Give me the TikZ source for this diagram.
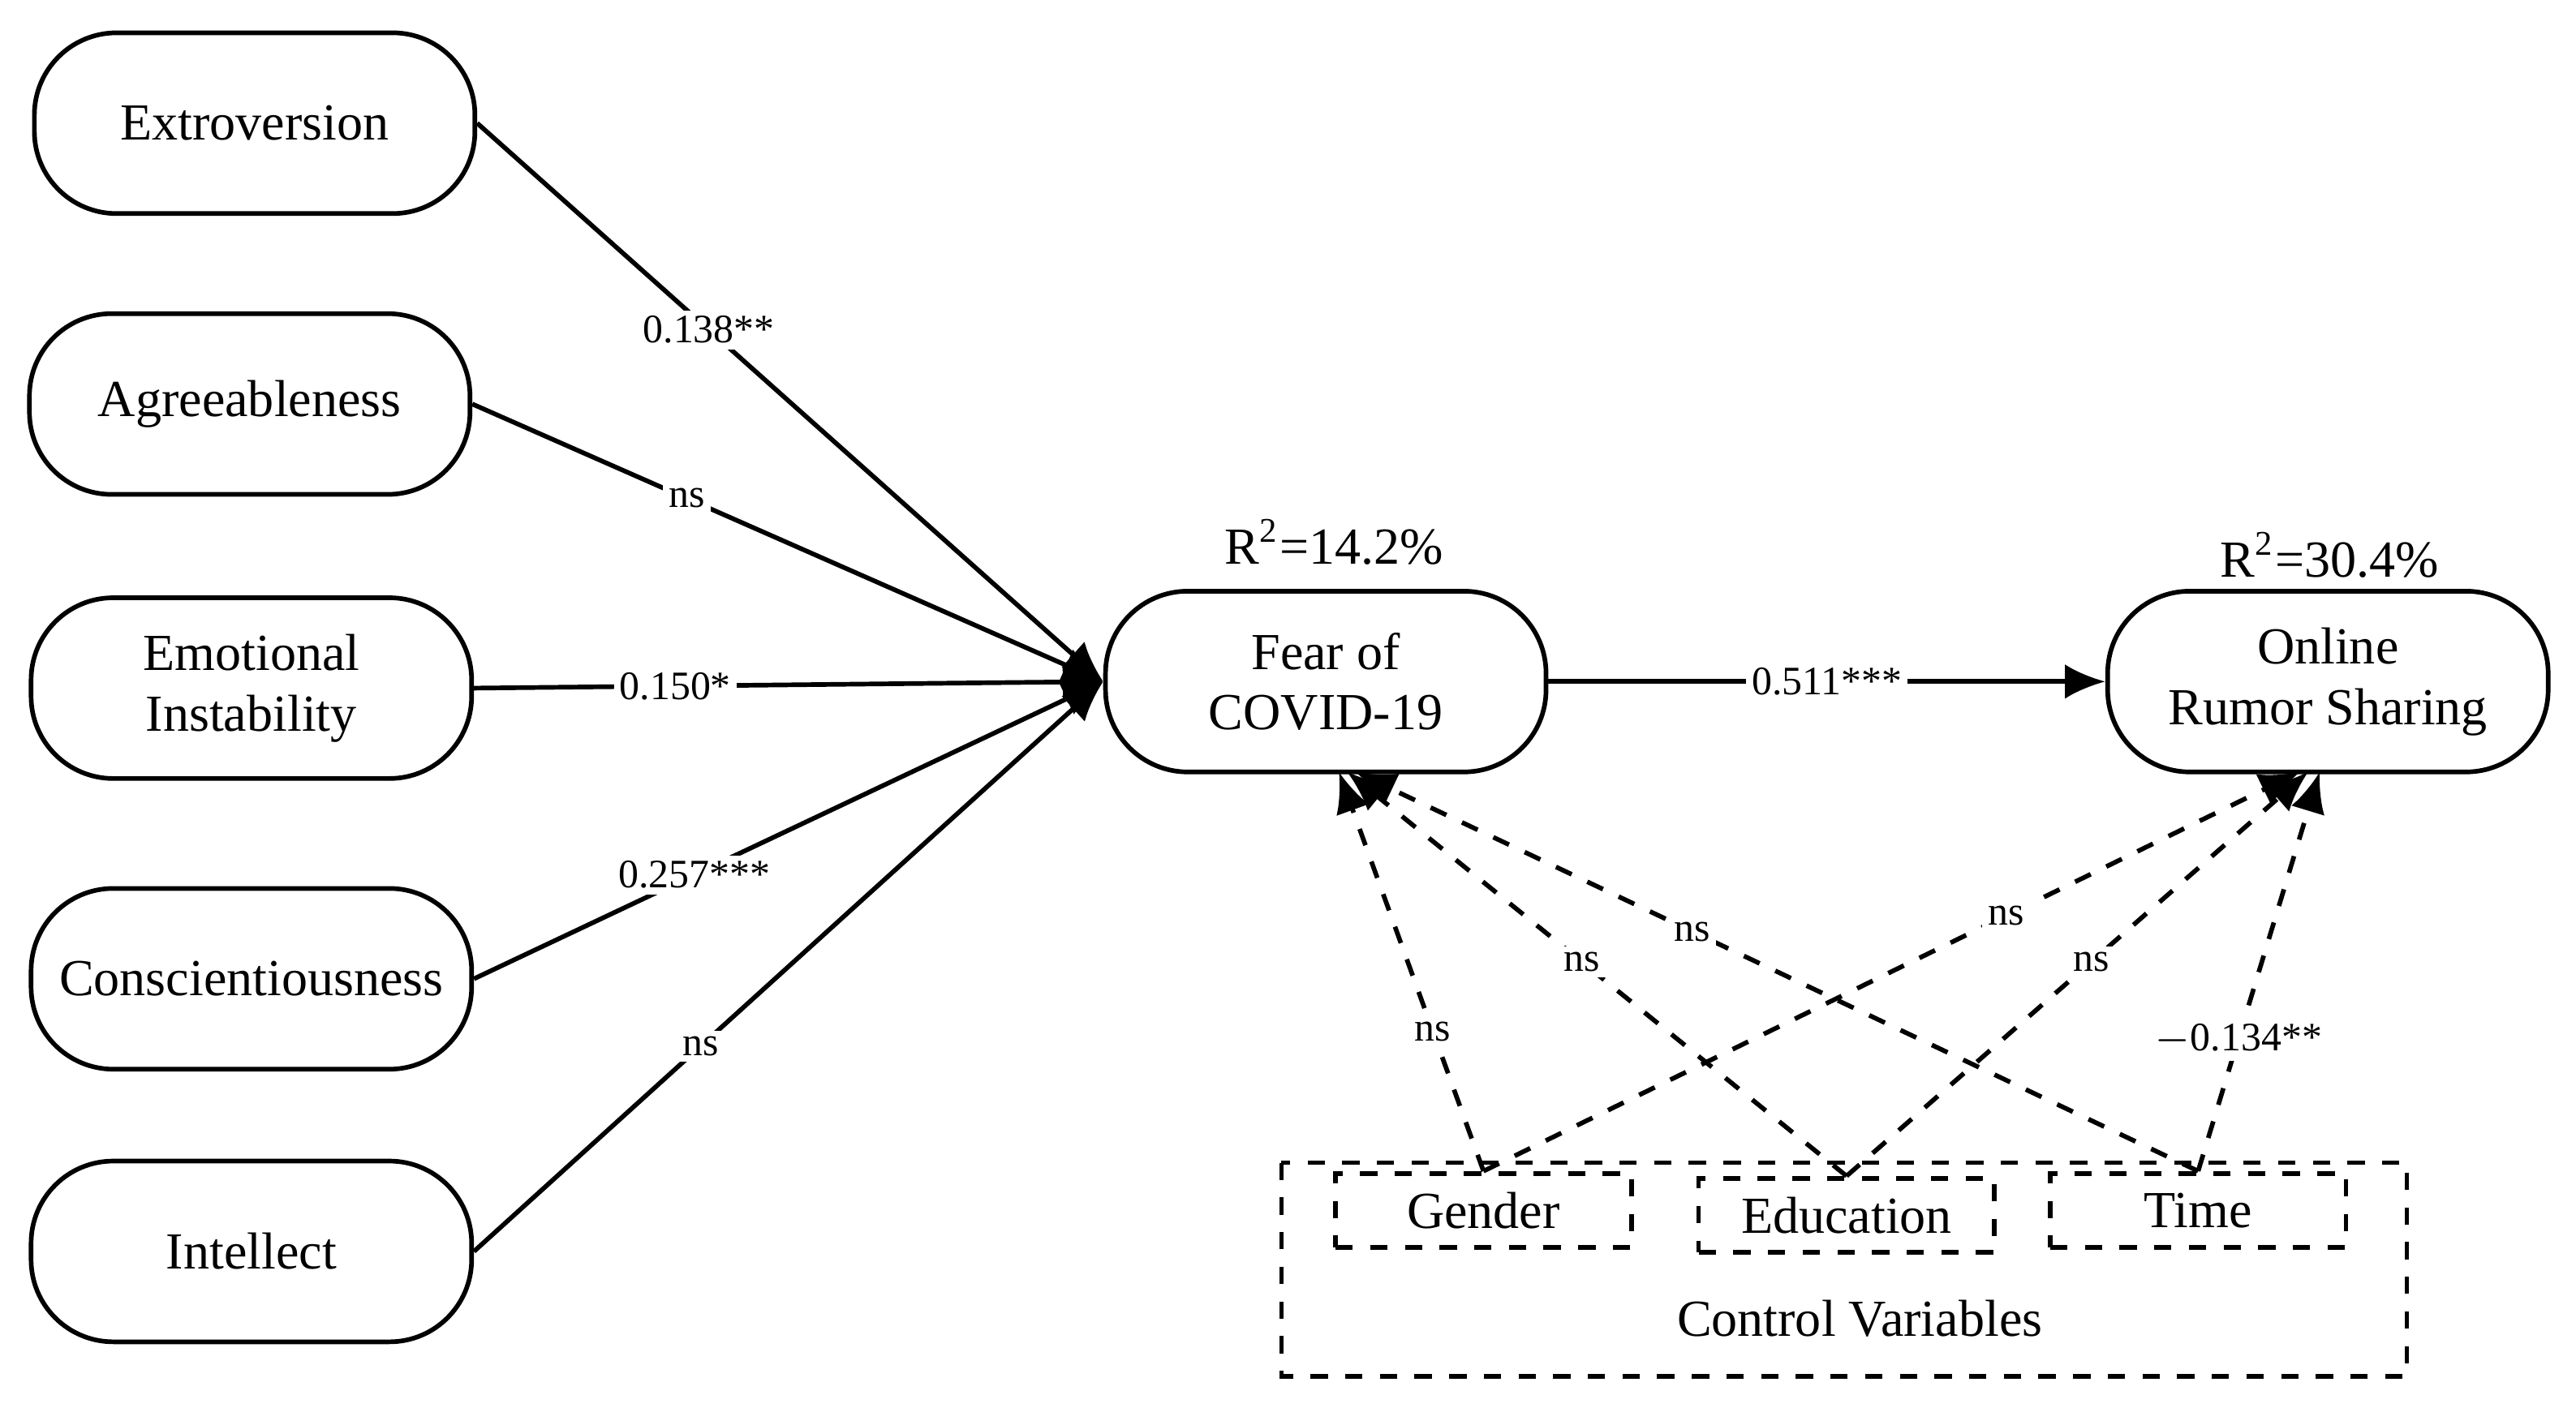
\documentclass[tikz,border=0pt]{standalone}
\usepackage{fontspec}
\setmainfont{Liberation Serif}
\usetikzlibrary{arrows.meta}
\begin{document}
\begin{tikzpicture}[x=0.01cm,y=-0.01cm]
\tikzstyle{every node}+=[font=\fontsize{9}{10.5}\selectfont]
\tikzstyle{latent}=[draw,thick,rounded corners=0.5cm,minimum width=2.68cm,minimum height=1.1cm,align=center]
\tikzstyle{ctrl}=[draw,thick,dashed,minimum width=1.8cm,minimum height=0.45cm,inner sep=0pt]
\tikzstyle{lab}=[fill=white,inner sep=1pt,font=\fontsize{7}{8}\selectfont]
\tikzstyle{path}=[thick,-{Latex[length=7pt,width=6pt]}]
\useasboundingbox (0,0) rectangle (1568,857);
\node [latent] (extro) at (155,75) {Extroversion};
\node [latent] (agree) at (152,246) {Agreeableness};
\node [latent] (emo) at (153,419) {Emotional\\Instability};
\node [latent] (consc) at (153,596) {Conscientiousness};
\node [latent] (intel) at (153,762) {Intellect};
\node [latent] (fear) at (807,415) {Fear of\\COVID-19};
\node [latent] (rumor) at (1417,415) {Online\\Rumor Sharing};
\node (r1) at (812,330) {R\textsuperscript{2}=14.2\%};
\node (r2) at (1418,338) {R\textsuperscript{2}=30.4\%};
\draw [thick,dashed] (780,708) rectangle (1465,838);
\node (cv) at (1132,803) {Control Variables};
\node [ctrl] (gender) at (903,737) {Gender};
\node [ctrl] (edu) at (1124,740) {Education};
\node [ctrl] (time) at (1338,737) {Time};
\draw [path] (extro.east) -- node[lab,pos=0.37] {0.138**} (fear.west);
\draw [path] (agree.east) -- node[lab,pos=0.34] {ns} (fear.west);
\draw [path] (emo.east) -- node[lab,pos=0.32] {0.150*} (fear.west);
\draw [path] (consc.east) -- node[lab,pos=0.35] {0.257***} (fear.west);
\draw [path] (intel.east) -- node[lab,pos=0.36] {ns} (fear.west);
\draw [path] (fear.east) -- node[lab] {0.511***} (rumor.west);
\draw [path,dashed] (gender.north) -- node[lab,pos=0.35] {ns} (815,470);
\draw [path,dashed] (gender.north) -- node[lab,pos=0.64] {ns} (1400,470);
\draw [path,dashed] (edu.north) -- node[lab,pos=0.53] {ns} (820,470);
\draw [path,dashed] (edu.north) -- node[lab,pos=0.53] {ns} (1405,470);
\draw [path,dashed] (time.north) -- node[lab,pos=0.6] {ns} (825,470);
\draw [path,dashed] (time.north) -- node[lab,pos=0.33] {$-$0.134**} (1412,470);
\end{tikzpicture}
\end{document}
